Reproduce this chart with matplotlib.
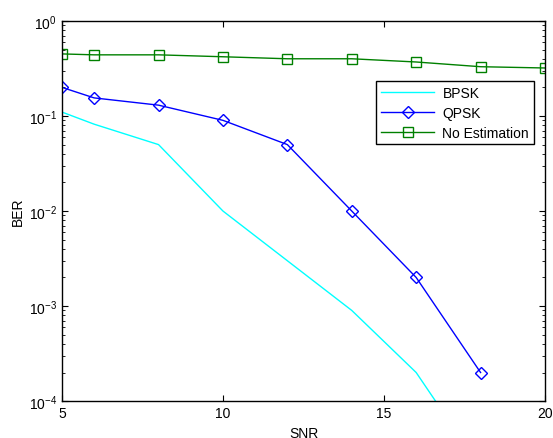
import matplotlib
matplotlib.use("Agg")
import matplotlib.pyplot as plt
from matplotlib.ticker import LogLocator, NullFormatter

plt.rcParams['font.family'] = ['Liberation Sans', 'DejaVu Sans']

snr = [5, 6, 8, 10, 12, 14, 16, 18, 20]
bpsk = [0.11, 0.082, 0.05, 0.01, 0.003, 0.0009, 0.0002, 0.00002, 0.000002]
snr_q = [5, 6, 8, 10, 12, 14, 16, 18]
qpsk = [0.2, 0.155, 0.13, 0.09, 0.05, 0.01, 0.002, 0.0002]
noest = [0.45, 0.44, 0.44, 0.42, 0.40, 0.40, 0.37, 0.33, 0.32]

fig = plt.figure(figsize=(5.53, 4.39), dpi=100)
ax = fig.add_axes([0.112, 0.084, 0.8735, 0.866])
ax.semilogy(snr, bpsk, color='cyan', lw=1, label='BPSK')
ax.semilogy(snr_q, qpsk, color='blue', lw=1, marker='D', ms=6, mfc='none', mew=1, label='QPSK')
ax.semilogy(snr, noest, color='green', lw=1, marker='s', ms=7, mfc='none', mew=1, label='No Estimation')
ax.set_xlim(5, 20)
ax.set_ylim(1e-4, 1)
ax.set_xticks([5, 10, 15, 20])
ax.yaxis.set_major_locator(LogLocator(base=10, numticks=10))
ax.yaxis.set_minor_locator(LogLocator(base=10, subs=range(2, 10), numticks=10))
ax.yaxis.set_minor_formatter(NullFormatter())
ax.tick_params(which='both', direction='in', top=True, right=True, labelsize=10)
ax.tick_params(which='major', length=4)
ax.tick_params(which='minor', length=2)
for s in ax.spines.values():
    s.set_linewidth(1)
ax.set_xlabel('SNR', fontsize=10, labelpad=4)
ax.set_ylabel('BER', fontsize=10, labelpad=3)
leg = ax.legend(loc='upper right', bbox_to_anchor=(0.977, 0.842), fontsize=10, fancybox=False,
                edgecolor='black', framealpha=1, handlelength=3.8, borderpad=0.35, labelspacing=0.42,
                handletextpad=0.6, borderaxespad=0)
leg.get_frame().set_linewidth(1)
fig.savefig('out.png', dpi=100)
